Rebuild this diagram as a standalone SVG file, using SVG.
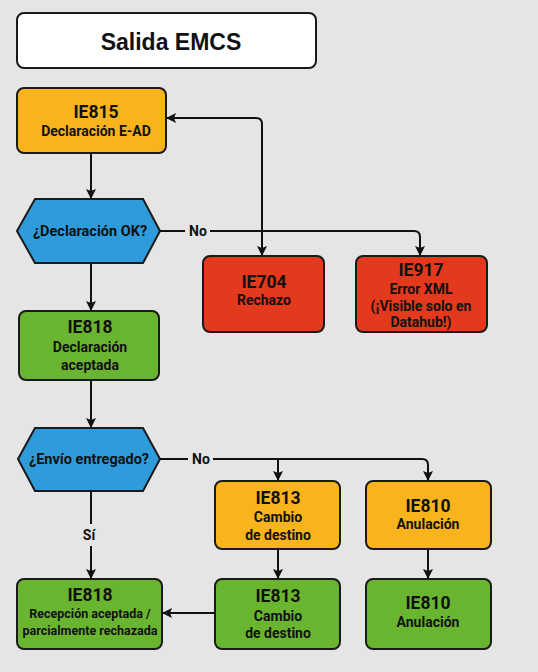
<svg xmlns="http://www.w3.org/2000/svg" width="538" height="672" viewBox="0 0 538 672">
<defs>
<marker id="ah" viewBox="0 0 10 10" refX="9" refY="5" markerWidth="10" markerHeight="10" markerUnits="userSpaceOnUse" orient="auto"><path d="M0,0 L10,5 L0,10 L2,5 Z" fill="#111"/></marker>
<style>
.box{stroke:#1a1a1a;stroke-width:2}
.y{fill:#F9B31B}.r{fill:#E3391C}.g{fill:#6AB52F}.b{fill:#2F9BDA}
text{font-family:Roboto,"Liberation Sans",Arial,sans-serif;font-weight:700;fill:#111;text-anchor:middle;dominant-baseline:central}
.t{font-size:17.5px}.s{font-size:14px}.xs{font-size:12.5px}
.c{fill:none;stroke:#111;stroke-width:2}
</style>
</defs>
<rect width="538" height="672" fill="#E5E5E5"/>
<g id="title"><rect x="17" y="13" width="299" height="55" rx="7" fill="#fff" class="box"/><text x="171" y="42" style="font-family:'Liberation Sans',Arial,sans-serif;font-size:23px">Salida EMCS</text></g>
<g id="ie815"><rect x="17" y="88" width="149" height="65" rx="7" class="box y"/><text x="96" y="112" class="t">IE815</text><text x="96" y="131" class="s">Declaración E-AD</text></g>
<g id="dec1"><polygon points="17,231 35,199 143,199 160,231 143,263 35,263" class="box b"/><text x="90" y="231" class="s" style="font-size:14.5px">¿Declaración OK?</text></g>
<g id="ie704"><rect x="203" y="256" width="121" height="76" rx="7" class="box r"/><text x="264" y="282" class="t">IE704</text><text x="264" y="300" class="s">Rechazo</text></g>
<g id="ie917"><rect x="356" y="256" width="131" height="76" rx="7" class="box r"/><text x="421" y="270" class="t">IE917</text><text x="421" y="289" class="s">Error XML</text><text x="421" y="306" class="s">(¡Visible solo en</text><text x="421" y="322" class="s">Datahub!)</text></g>
<g id="ie818a"><rect x="19" y="311" width="140" height="69" rx="7" class="box g"/><text x="90" y="327" class="t">IE818</text><text x="90" y="347" class="s">Declaración</text><text x="90" y="365" class="s">aceptada</text></g>
<g id="dec2"><polygon points="18,459 35,428 143,428 160,459 143,491 35,491" class="box b"/><text x="89" y="459" class="s" style="font-size:14.5px">¿Envío entregado?</text></g>
<g id="ie813a"><rect x="215" y="481" width="125" height="68" rx="7" class="box y"/><text x="278" y="498" class="t">IE813</text><text x="278" y="517" class="s">Cambio</text><text x="278" y="535" class="s">de destino</text></g>
<g id="ie810a"><rect x="366" y="481" width="125" height="68" rx="7" class="box y"/><text x="428" y="506" class="t">IE810</text><text x="428" y="524" class="s">Anulación</text></g>
<g id="ie818b"><rect x="17" y="579" width="145" height="70" rx="7" class="box g"/><text x="90" y="595" class="t">IE818</text><text x="90" y="613" class="xs">Recepción aceptada /</text><text x="90" y="630" class="xs">parcialmente rechazada</text></g>
<g id="ie813b"><rect x="215" y="579" width="125" height="70" rx="7" class="box g"/><text x="278" y="596" class="t">IE813</text><text x="278" y="616" class="s">Cambio</text><text x="278" y="633" class="s">de destino</text></g>
<g id="ie810b"><rect x="366" y="579" width="125" height="70" rx="7" class="box g"/><text x="428" y="603" class="t">IE810</text><text x="428" y="622" class="s">Anulación</text></g>
<g id="connectors">
<path d="M91,153 V198" class="c" marker-end="url(#ah)"/>
<path d="M91,263 V310" class="c" marker-end="url(#ah)"/>
<path d="M91,380 V427" class="c" marker-end="url(#ah)"/>
<path d="M160,231 H185 M210,231 H414 Q420,231 420,237 V255" class="c" marker-end="url(#ah)"/>
<text x="198" y="231" class="s">No</text>
<path d="M262,255 V124 Q262,118 256,118 H167" class="c" marker-end="url(#ah)"/>
<path d="M262,231 V255" class="c" marker-end="url(#ah)"/>
<path d="M160,459 H188 M213,459 H422 Q428,459 428,465 V480" class="c" marker-end="url(#ah)"/>
<text x="201" y="459" class="s">No</text>
<path d="M278,459 V480" class="c" marker-end="url(#ah)"/>
<path d="M91,491 V524 M91,546 V578" class="c" marker-end="url(#ah)"/>
<text x="89" y="535" class="s">Sí</text>
<path d="M278,549 V578" class="c" marker-end="url(#ah)"/>
<path d="M428,549 V578" class="c" marker-end="url(#ah)"/>
<path d="M215,613 H163" class="c" marker-end="url(#ah)"/>
</g>
</svg>
